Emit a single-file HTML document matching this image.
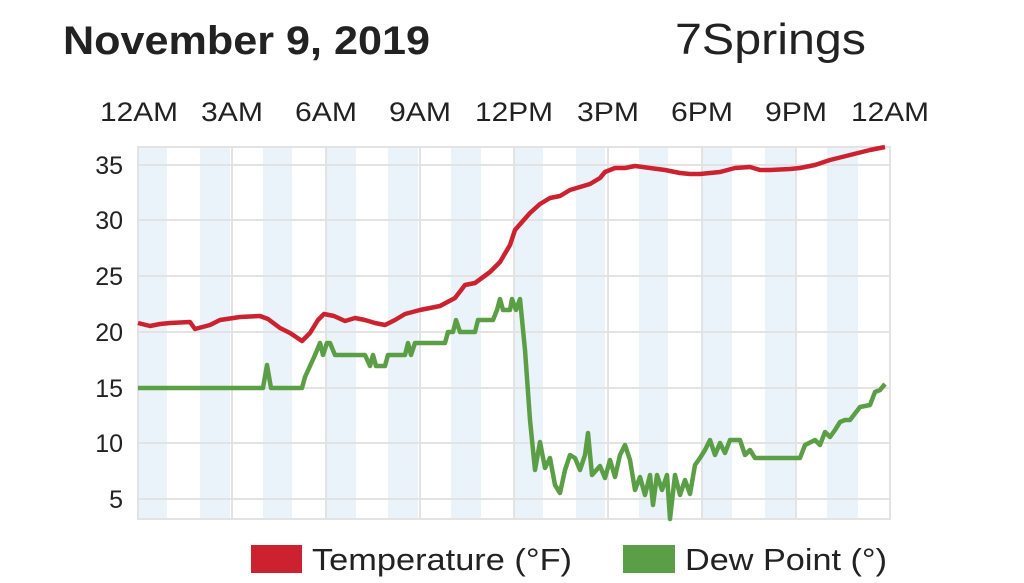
<!DOCTYPE html>
<html><head><meta charset="utf-8"><style>
body{margin:0;background:#fff;width:1024px;height:578px;overflow:hidden;font-family:"Liberation Sans",sans-serif}
</style></head><body>
<svg width="1024" height="578" xmlns="http://www.w3.org/2000/svg" font-family="Liberation Sans, sans-serif">
<rect width="1024" height="578" fill="#fff"/>
<text x="63" y="54" font-size="40" font-weight="bold" fill="#222" textLength="367" lengthAdjust="spacingAndGlyphs">November 9, 2019</text>
<text x="675" y="54" font-size="44" fill="#222" textLength="191" lengthAdjust="spacingAndGlyphs">7Springs</text>
<g font-size="27" fill="#222" text-anchor="middle">
<text x="139" y="121" textLength="78" lengthAdjust="spacingAndGlyphs">12AM</text><text x="232" y="121" textLength="62" lengthAdjust="spacingAndGlyphs">3AM</text><text x="326" y="121" textLength="62" lengthAdjust="spacingAndGlyphs">6AM</text><text x="420" y="121" textLength="62" lengthAdjust="spacingAndGlyphs">9AM</text><text x="514" y="121" textLength="78" lengthAdjust="spacingAndGlyphs">12PM</text><text x="608" y="121" textLength="62" lengthAdjust="spacingAndGlyphs">3PM</text><text x="702" y="121" textLength="62" lengthAdjust="spacingAndGlyphs">6PM</text><text x="796" y="121" textLength="62" lengthAdjust="spacingAndGlyphs">9PM</text><text x="890" y="121" textLength="78" lengthAdjust="spacingAndGlyphs">12AM</text>
</g>
<g fill="#ebf3fa">
<rect x="138" y="147" width="29" height="372"/><rect x="200" y="147" width="30" height="372"/><rect x="263" y="147" width="29" height="372"/><rect x="327" y="147" width="29" height="372"/><rect x="388" y="147" width="30" height="372"/><rect x="451" y="147" width="30" height="372"/><rect x="514" y="147" width="29" height="372"/><rect x="576" y="147" width="29" height="372"/><rect x="639" y="147" width="29" height="372"/><rect x="703" y="147" width="29" height="372"/><rect x="765" y="147" width="30" height="372"/><rect x="827" y="147" width="31" height="372"/>
</g>
<g stroke="#e3e3e3" stroke-width="2" fill="none">
<rect x="138" y="147" width="752" height="372"/>
<line x1="138" x2="890" y1="165" y2="165"/><line x1="138" x2="890" y1="220" y2="220"/><line x1="138" x2="890" y1="276" y2="276"/><line x1="138" x2="890" y1="332" y2="332"/><line x1="138" x2="890" y1="388" y2="388"/><line x1="138" x2="890" y1="443" y2="443"/><line x1="138" x2="890" y1="499" y2="499"/>
<line x1="232" x2="232" y1="147" y2="519"/><line x1="326" x2="326" y1="147" y2="519"/><line x1="420" x2="420" y1="147" y2="519"/><line x1="514" x2="514" y1="147" y2="519"/><line x1="608" x2="608" y1="147" y2="519"/><line x1="702" x2="702" y1="147" y2="519"/><line x1="796" x2="796" y1="147" y2="519"/>
</g>
<g font-size="25" fill="#222" text-anchor="end">
<text x="123" y="174">35</text><text x="123" y="229">30</text><text x="123" y="285">25</text><text x="123" y="341">20</text><text x="123" y="397">15</text><text x="123" y="452">10</text><text x="123" y="508">5</text>
</g>
<polyline fill="none" stroke="#cc2230" stroke-width="4.5" stroke-linejoin="round" points="138,323 150,326 160,324 170,323 190,322 195,329 210,325 220,320 240,317 260,316 268,319 280,328 290,333 302,341 310,333 318,320 324,314 334,316 345,321 355,318 365,320 375,323 385,325 395,320 405,314 420,310 440,306 455,298 465,285 475,283 490,272 500,262 510,245 515,230 522,222 530,213 540,204 550,198 560,196 570,190 580,187 590,184 600,178 605,172 615,168 625,168 635,166 650,168 665,170 680,173 690,174 700,174 720,172 735,168 750,167 760,170 770,170 790,169 800,168 815,165 830,160 850,155 870,150 885,147"/>
<polyline fill="none" stroke="#5a9e45" stroke-width="4.5" stroke-linejoin="round" points="138,388 263,388 267,365 271,388 302,388 305,377 310,366 315,355 320,343 323,355 327,343 330,343 335,355 365,355 370,366 373,355 376,366 385,366 388,355 405,355 408,343 411,355 415,343 445,343 448,332 453,332 456,320 460,332 475,332 478,320 493,320 497,310 500,299 503,310 510,310 512,299 516,310 520,299 525,350 530,420 535,470 540,442 545,468 550,458 555,485 560,493 565,470 570,455 575,458 580,470 585,455 588,433 592,475 600,466 605,478 610,460 615,477 620,455 625,445 630,460 635,490 640,477 645,495 650,475 653,505 657,475 662,490 667,475 670,519 675,475 680,495 685,480 690,494 695,465 700,458 705,450 710,440 715,455 720,443 725,453 730,440 740,440 745,455 750,450 755,458 800,458 805,445 815,440 820,445 825,432 830,437 835,430 840,422 845,420 850,420 860,407 870,405 875,392 880,390 885,384"/>
<rect x="251" y="545" width="51" height="28" fill="#cc2230"/>
<text x="312" y="570" font-size="31" fill="#222" textLength="260" lengthAdjust="spacingAndGlyphs">Temperature (°F)</text>
<rect x="623" y="545" width="52" height="28" fill="#5a9e45"/>
<text x="685" y="570" font-size="31" fill="#222" textLength="202" lengthAdjust="spacingAndGlyphs">Dew Point (°)</text>
</svg>
</body></html>
